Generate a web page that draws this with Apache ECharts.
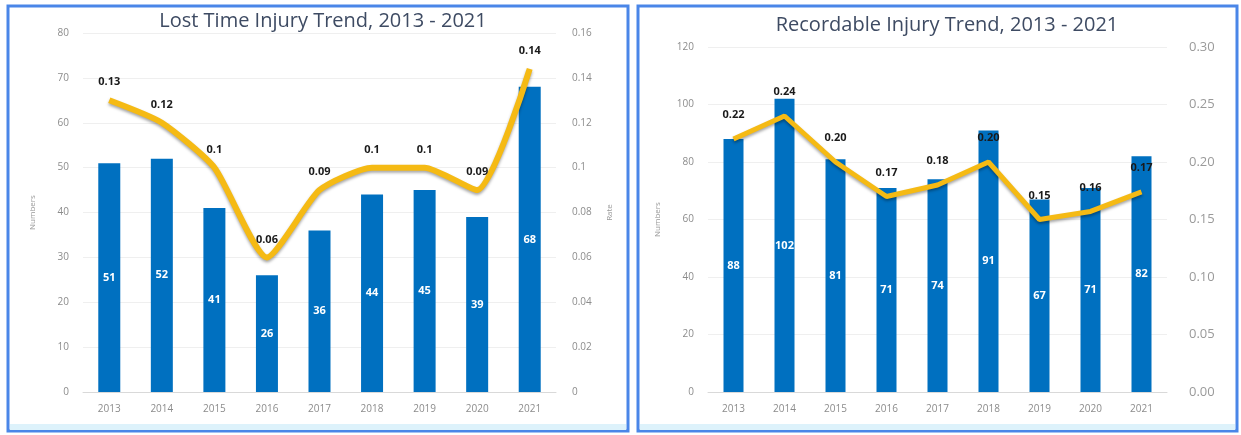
<!DOCTYPE html>
<html>
<head>
<meta charset="utf-8">
<script src="https://cdn.jsdelivr.net/npm/echarts@6/dist/echarts.min.js"></script>
<style>
html,body{margin:0;padding:0;background:#fff;}
#c{width:1241px;height:435px;}
</style>
</head>
<body>
<div id="c"></div>
<script>
const years = ['2013','2014','2015','2016','2017','2018','2019','2020','2021'];
const ltiNumbers = [51, 52, 41, 26, 36, 44, 45, 39, 68];
const ltiRate = [0.13, 0.12, 0.10, 0.06, 0.09, 0.10, 0.10, 0.09, 0.144];
const recNumbers = [88, 102, 81, 71, 74, 91, 67, 71, 82];
const recRate = [0.22, 0.24, 0.20, 0.17, 0.18, 0.20, 0.15, 0.157, 0.174];
const leftTitle = 'Lost Time Injury Trend, 2013 - 2021';
const rightTitle = 'Recordable Injury Trend, 2013 - 2021';

const FONT = '"Open Sans", sans-serif';
const BAR = '#0070C0';
const LINE = '#F5BA14';
const axisLbl = {color:'#8c8c8c', fontSize:10, fontFamily:FONT};
const split = {show:true, lineStyle:{color:'#efefef', width:1}};
const lineLabel = {show:true, position:'top', distance:12, color:'#1a1a1a', fontWeight:'bold', fontSize:11, fontFamily:FONT};

const chart = echarts.init(document.getElementById('c'), null, {renderer:'canvas'});
chart.setOption({
  animation:false,
  backgroundColor:'#fff',
  title:[
    {text:leftTitle, left:318, top:6, textAlign:'center',
     textStyle:{fontFamily:FONT, fontSize:20, fontWeight:'normal', color:'#3E4B63'}},
    {text:rightTitle, left:942, top:10, textAlign:'center',
     textStyle:{fontFamily:FONT, fontSize:20, fontWeight:'normal', color:'#3E4B63'}}
  ],
  graphic:[
    {type:'rect', shape:{x:8, y:6, width:620, height:425}, style:{fill:'none', stroke:'#4A86E8', lineWidth:3}, z:-1},
    {type:'rect', shape:{x:10, y:424, width:616, height:6}, style:{fill:'#DDF2FB'}, z:-1},
    {type:'rect', shape:{x:638, y:6, width:599, height:425}, style:{fill:'none', stroke:'#4A86E8', lineWidth:3}, z:-1},
    {type:'rect', shape:{x:640, y:424, width:595, height:6}, style:{fill:'#DDF2FB'}, z:-1}
  ],
  grid:[
    {left:83, right:685, top:33, bottom:43},
    {left:708, right:74, top:47, bottom:43}
  ],
  xAxis:[
    {type:'category', gridIndex:0, data:years, axisTick:{show:false},
     axisLine:{lineStyle:{color:'#d9d9d9'}}, axisLabel:Object.assign({margin:12}, axisLbl)},
    {type:'category', gridIndex:1, data:years, axisTick:{show:false},
     axisLine:{lineStyle:{color:'#d9d9d9'}}, axisLabel:Object.assign({margin:12}, axisLbl)}
  ],
  yAxis:[
    {type:'value', gridIndex:0, min:0, max:80, interval:10, splitLine:split,
     axisLabel:Object.assign({margin:14}, axisLbl),
     name:'Numbers', nameLocation:'middle', nameGap:46, nameRotate:90,
     nameTextStyle:{color:'#999', fontSize:8, fontFamily:FONT}},
    {type:'value', gridIndex:0, min:0, max:0.16, interval:0.02, position:'right', splitLine:{show:false},
     axisLabel:Object.assign({margin:16}, axisLbl),
     name:'Rate', nameLocation:'middle', nameGap:50, nameRotate:90,
     nameTextStyle:{color:'#999', fontSize:8, fontFamily:FONT}},
    {type:'value', gridIndex:1, min:0, max:120, interval:20, splitLine:split,
     axisLabel:Object.assign({margin:14}, axisLbl),
     name:'Numbers', nameLocation:'middle', nameGap:46, nameRotate:90,
     nameTextStyle:{color:'#999', fontSize:8, fontFamily:FONT}},
    {type:'value', gridIndex:1, min:0, max:0.30, interval:0.05, position:'right', splitLine:{show:false},
     axisLabel:{margin:22, color:'#9a9a9a', fontSize:13, fontFamily:FONT, formatter:v=>v.toFixed(2)}}
  ],
  series:[
    {type:'bar', xAxisIndex:0, yAxisIndex:0, data:ltiNumbers, barWidth:22,
     itemStyle:{color:BAR},
     label:{show:true, position:'inside', color:'#fff', fontWeight:'bold', fontSize:11, fontFamily:FONT}},
    {type:'line', xAxisIndex:0, yAxisIndex:1, data:ltiRate, smooth:0.2, symbol:'circle', symbolSize:1,
     itemStyle:{color:'rgba(0,0,0,0)'},
     lineStyle:{color:LINE, width:6, shadowColor:'rgba(0,0,0,0.35)', shadowBlur:3, shadowOffsetY:2},
     label:Object.assign({formatter:p=>String(parseFloat(p.value.toFixed(2)))}, lineLabel)},
    {type:'bar', xAxisIndex:1, yAxisIndex:2, data:recNumbers, barWidth:20,
     itemStyle:{color:BAR},
     label:{show:true, position:'inside', color:'#fff', fontWeight:'bold', fontSize:11, fontFamily:FONT}},
    {type:'line', xAxisIndex:1, yAxisIndex:3, data:recRate, symbol:'circle', symbolSize:1,
     itemStyle:{color:'rgba(0,0,0,0)'},
     lineStyle:{color:LINE, width:5, shadowColor:'rgba(0,0,0,0.35)', shadowBlur:3, shadowOffsetY:2},
     label:Object.assign({formatter:p=>p.value.toFixed(2)}, lineLabel, {distance:18})}
  ]
});
</script>
</body>
</html>
